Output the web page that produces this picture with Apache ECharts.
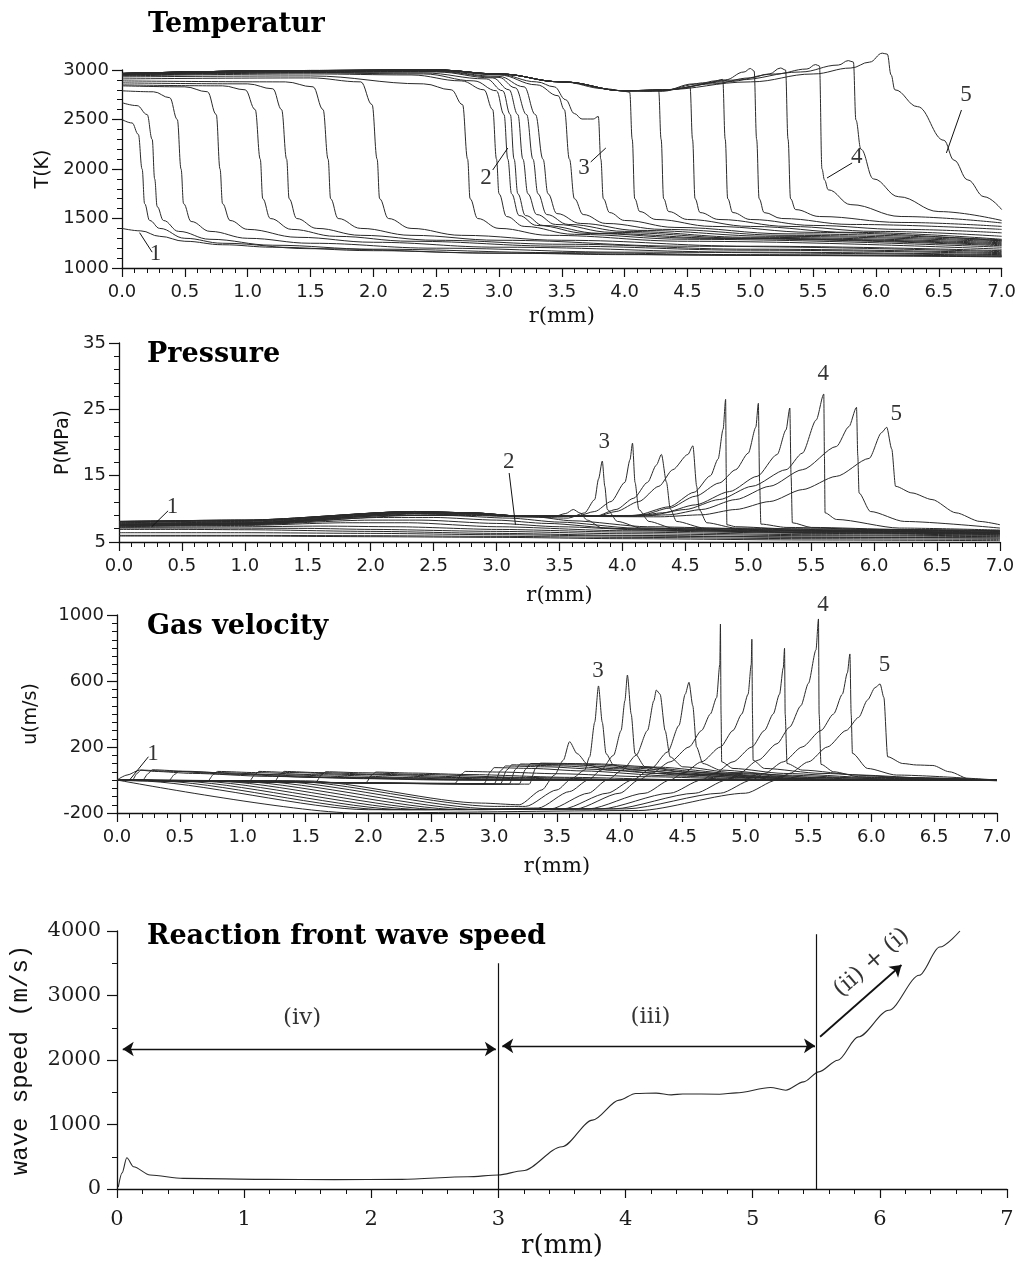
<!DOCTYPE html>
<html><head><meta charset="utf-8">
<script src="https://cdn.jsdelivr.net/npm/echarts@6/dist/echarts.min.js"></script>
<style>html,body{margin:0;padding:0;background:#fff}#c{width:1019px;height:1271px}</style>
</head><body><div id="c"></div>
<script>
// ---------- Panel titles ----------
const panelTitles = ['Temperatur', 'Pressure', 'Gas velocity', 'Reaction front wave speed'];

// ---------- Temperature profiles T(K) vs r(mm) ----------
const tempCurves = [
 [[0,1400],[0.15,1375],[0.3,1320],[0.5,1270],[0.8,1235],[1.2,1210],[2,1175],[3,1150],[4,1135],[5.5,1125],[7,1118]],
 [[0,2500],[0.08,2465],[0.13,2350],[0.16,2000],[0.18,1650],[0.22,1480],[0.3,1400],[0.5,1300],[0.8,1250],[1.5,1195],[3,1150],[5,1128],[7,1112]],
 [[0,2670],[0.12,2640],[0.2,2550],[0.24,2300],[0.26,1900],[0.28,1620],[0.33,1480],[0.45,1370],[0.7,1290],[1.2,1230],[2,1190],[3.5,1155],[5,1135],[7,1120]],
 [[0,2790],[0.25,2780],[0.38,2720],[0.44,2500],[0.47,2000],[0.49,1650],[0.55,1470],[0.7,1370],[1,1300],[1.5,1250],[2.5,1200],[4,1160],[7,1128]],
 [[0,2840],[0.5,2830],[0.68,2780],[0.75,2550],[0.78,2000],[0.8,1650],[0.86,1480],[1,1390],[1.4,1310],[2,1260],[3,1210],[5,1160],[7,1135]],
 [[0,2850],[0.8,2840],[0.98,2800],[1.06,2600],[1.1,2100],[1.12,1700],[1.18,1500],[1.35,1390],[1.7,1320],[2.3,1270],[3.5,1220],[5,1180],[7,1145]],
 [[0,2870],[1,2860],[1.2,2810],[1.27,2600],[1.31,2100],[1.33,1700],[1.39,1500],[1.55,1400],[1.9,1330],[2.5,1280],[3.5,1240],[5,1190],[7,1155]],
 [[0,2890],[1.3,2880],[1.52,2830],[1.6,2600],[1.64,2100],[1.66,1700],[1.72,1500],[1.9,1400],[2.3,1330],[3,1280],[4.5,1220],[7,1165]],
 [[0,2910],[1.5,2920],[1.9,2880],[1.99,2650],[2.03,2100],[2.05,1700],[2.12,1500],[2.3,1400],[2.7,1330],[3.5,1280],[5,1220],[7,1175]],
 [[0,2930],[1.5,2940],[2.4,2860],[2.62,2800],[2.71,2650],[2.75,2100],[2.77,1700],[2.83,1500],[3,1400],[3.4,1330],[4.5,1270],[7,1190]],
 [[0,2940],[1.5,2960],[2.3,2950],[2.7,2890],[2.88,2800],[2.95,2600],[2.98,2100],[3.0,1750],[3.06,1520],[3.2,1420],[3.6,1340],[4.5,1290],[7,1210]],
 [[0,2945],[1.5,2970],[2.4,2960],[2.8,2890],[2.98,2790],[3.04,2550],[3.07,2100],[3.1,1750],[3.16,1530],[3.3,1430],[3.7,1350],[4.6,1300],[7,1225]],
 [[0,2950],[1.5,2975],[2.4,2970],[2.9,2910],[3.03,2790],[3.09,2550],[3.12,2100],[3.15,1750],[3.21,1530],[3.35,1430],[3.8,1350],[4.8,1300],[7,1235]],
 [[0,2955],[1.5,2980],[2.5,2980],[2.95,2920],[3.08,2800],[3.15,2550],[3.19,2100],[3.23,1750],[3.3,1540],[3.45,1440],[3.9,1360],[5,1300],[7,1245]],
 [[0,2955],[1.5,2985],[2.5,2985],[3,2925],[3.13,2820],[3.22,2550],[3.27,2100],[3.31,1750],[3.38,1540],[3.55,1440],[4,1370],[5,1310],[7,1255]],
 [[0,2960],[1.5,2990],[2.5,2990],[3,2935],[3.2,2830],[3.29,2550],[3.35,2100],[3.39,1750],[3.46,1550],[3.65,1450],[4.1,1380],[5.2,1320],[7,1265]],
 [[0,2960],[1.5,2990],[2.5,2995],[3,2950],[3.3,2850],[3.47,2740],[3.52,2600],[3.56,2100],[3.6,1700],[3.67,1540],[3.85,1450],[4.3,1390],[5.3,1330],[7,1275]],
 [[0,2965],[1.5,2995],[2.5,3000],[3,2955],[3.3,2880],[3.44,2830],[3.53,2700],[3.6,2560],[3.66,2505],[3.75,2505],[3.79,2530],[3.81,2100],[3.83,1700],[3.88,1560],[4,1480],[4.4,1410],[5.3,1345],[7,1285]],
 [[0,2965],[1.5,2995],[2.5,3000],[3,2960],[3.5,2880],[3.85,2810],[4,2785],[4.04,2775],[4.06,2300],[4.08,1700],[4.12,1570],[4.25,1490],[4.7,1420],[5.5,1360],[7,1275]],
 [[0,2965],[1.5,2995],[2.5,3000],[3,2960],[3.5,2880],[4,2790],[4.2,2785],[4.27,2795],[4.29,2300],[4.31,1700],[4.35,1570],[4.5,1490],[5,1420],[5.8,1360],[7,1290]],
 [[0,2965],[1.5,2995],[2.5,3000],[3,2960],[3.5,2880],[4,2790],[4.3,2785],[4.45,2815],[4.52,2830],[4.54,2300],[4.56,1700],[4.6,1560],[4.75,1490],[5.3,1420],[6,1370],[7,1320]],
 [[0,2965],[1.5,2995],[2.5,3000],[3,2960],[3.5,2880],[4,2790],[4.3,2790],[4.55,2860],[4.62,2870],[4.72,2890],[4.78,2905],[4.8,2300],[4.82,1700],[4.86,1560],[5,1490],[5.5,1430],[6.2,1390],[7,1355]],
 [[0,2965],[1.5,2995],[2.5,3000],[3,2960],[3.5,2880],[4,2790],[4.3,2795],[4.6,2860],[4.8,2900],[4.95,2980],[5,3015],[5.03,2990],[5.05,2300],[5.07,1700],[5.11,1560],[5.25,1500],[5.8,1440],[7,1390]],
 [[0,2965],[1.5,2995],[2.5,3000],[3,2960],[3.5,2880],[4,2790],[4.3,2795],[4.7,2860],[5,2920],[5.15,2960],[5.24,3020],[5.28,3000],[5.3,2300],[5.32,1700],[5.36,1590],[5.55,1520],[6.2,1460],[7,1420]],
 [[0,2965],[1.5,2995],[2.5,3000],[3,2960],[3.5,2880],[4,2790],[4.3,2800],[4.8,2880],[5.2,2960],[5.45,3010],[5.52,3055],[5.55,3040],[5.57,2000],[5.59,1890],[5.62,1790],[5.8,1640],[6.2,1520],[7,1455]],
 [[0,2965],[1.5,2995],[2.5,3000],[3,2960],[3.5,2880],[4,2790],[4.3,2800],[4.9,2900],[5.4,2980],[5.7,3050],[5.78,3095],[5.82,3080],[5.84,2495],[5.88,2200],[5.98,1900],[6.18,1720],[6.5,1570],[7,1480]],
 [[0,2965],[1.5,2995],[2.5,3000],[3,2960],[3.5,2880],[4,2790],[4.3,2800],[5,2880],[5.5,2960],[5.8,3020],[5.95,3080],[6.05,3170],[6.09,3160],[6.12,2950],[6.15,2800],[6.33,2630],[6.54,2290],[6.62,2090],[6.73,1890],[6.86,1720],[7,1590]]
];
const tempLabels = [['1',0.27,1141],['2',2.9,1909],['3',3.68,2010],['4',5.85,2121],['5',6.72,2747]];
const tempLeaders = [[[0.14,1357],[0.24,1160]],[[2.95,1990],[3.07,2212]],[[3.73,2071],[3.85,2212]],[[5.81,2061],[5.61,1909]],[[6.68,2596],[6.56,2162]]];

// ---------- Pressure profiles P(MPa) ----------
const presCurves = [
 [[0,5.9],[1,5.9],[2,5.8],[3,5.7],[4,5.5],[5.5,5.3],[7,5.2]],
 [[0,6.0],[1,6.0],[2,5.95],[3,5.85],[4,5.7],[5.5,5.5],[7,5.4]],
 [[0,6.4],[1,6.4],[2,6.3],[3,6.1],[4,5.9],[5.5,5.7],[7,5.6]],
 [[0,6.9],[0.5,6.9],[1,6.85],[2,6.6],[3,6.3],[4,6.0],[5.5,5.75],[7,5.6]],
 [[0,7.1],[0.8,7.1],[1.5,7.05],[2,6.9],[3,6.6],[4,6.25],[5.5,5.95],[7,5.8]],
 [[0,7.2],[1,7.3],[1.6,7.4],[2.2,7.3],[3,6.9],[4,6.5],[5.5,6.1],[7,5.9]],
 [[0,7.3],[1,7.5],[1.8,7.9],[2.3,7.9],[3,7.3],[4,6.7],[5.5,6.3],[7,6.0]],
 [[0,7.4],[1,7.6],[2,8.3],[2.4,8.3],[3,7.8],[3.5,7.3],[4.2,6.8],[5.5,6.4],[7,6.1]],
 [[0,7.5],[1,7.7],[2.1,8.7],[2.5,8.7],[3,8.3],[3.4,7.8],[4,7.0],[5.5,6.5],[7,6.2]],
 [[0,7.6],[1,7.8],[2.2,9.0],[2.6,9.0],[3.1,8.6],[3.5,8.0],[4.1,7.1],[5.5,6.6],[7,6.3]],
 [[0,7.7],[1,7.9],[2.3,9.3],[2.8,9.2],[3.3,8.8],[3.6,8.2],[4.2,7.3],[5.5,6.7],[7,6.4]],
 [[0,7.4],[1,7.6],[2.35,9.0],[2.8,9.0],[3.2,8.8],[3.45,8.8],[3.55,9.3],[3.61,9.9],[3.66,9.4],[3.72,8.3],[3.84,7.1],[4.5,6.7],[5.5,6.4],[7,6.2]],
 [[0,7.5],[1,7.7],[2.35,9.2],[2.8,9.1],[3.2,8.8],[3.57,8.6],[3.7,9.4],[3.78,11.4],[3.81,14.5],[3.84,17.2],[3.86,13.4],[3.88,9.9],[3.96,8.1],[4.15,7.1],[5,6.7],[7,6.3]],
 [[0,7.6],[1,7.8],[2.35,9.3],[2.8,9.2],[3.2,8.9],[3.64,8.9],[3.78,9.6],[3.91,11.1],[4.02,14.0],[4.06,17.4],[4.08,19.9],[4.1,14.0],[4.13,9.9],[4.21,8.1],[4.4,7.1],[5.2,6.8],[7,6.4]],
 [[0,7.7],[1,7.9],[2.35,9.4],[2.8,9.3],[3.2,8.9],[3.79,8.9],[3.95,9.9],[4.09,11.6],[4.2,14.0],[4.27,16.6],[4.31,18.2],[4.35,14.0],[4.38,10.0],[4.43,8.1],[4.65,7.1],[5.5,6.8],[7,6.5]],
 [[0,7.8],[1,8.0],[2.35,9.5],[2.8,9.3],[3.2,8.9],[3.8,8.9],[3.95,9.6],[4.13,11.1],[4.29,13.4],[4.4,15.9],[4.52,18.2],[4.56,19.5],[4.59,13.4],[4.61,9.9],[4.67,7.9],[4.9,7.1],[5.8,6.8],[7,6.6]],
 [[0,7.9],[1,8.1],[2.35,9.5],[2.8,9.4],[3.2,8.9],[4.1,9.0],[4.37,10.3],[4.57,12.5],[4.7,15.0],[4.76,17.5],[4.8,22.0],[4.82,26.5],[4.825,15],[4.83,7.6],[4.9,7.3],[5.3,7.0],[7,6.6]],
 [[0,8.0],[1,8.2],[2.35,9.6],[2.8,9.4],[3.2,8.9],[4.0,8.9],[4.16,9.1],[4.37,10.1],[4.58,11.9],[4.77,13.9],[4.9,15.9],[5.0,18.4],[5.06,22.3],[5.08,25.9],[5.09,14],[5.1,7.7],[5.3,7.2],[6,6.9],[7,6.7]],
 [[0,8.0],[1,8.2],[2.35,9.6],[2.8,9.4],[3.2,8.9],[4.1,8.9],[4.32,9.4],[4.58,10.6],[4.85,12.6],[5.07,14.9],[5.23,18.2],[5.3,21.9],[5.33,25.2],[5.34,15],[5.35,7.9],[5.5,7.2],[6.2,6.9],[7,6.7]],
 [[0,8.1],[1,8.3],[2.35,9.6],[2.8,9.4],[3.2,8.9],[4.0,8.9],[4.24,9.1],[4.5,9.9],[4.77,11.4],[5.03,13.4],[5.3,15.9],[5.43,18.4],[5.54,23.4],[5.6,27.3],[5.605,18],[5.61,9.4],[5.7,8.4],[6.2,7.1],[7,6.8]],
 [[0,8.1],[1,8.3],[2.35,9.6],[2.8,9.4],[3.2,8.9],[4.1,8.9],[4.37,9.1],[4.63,9.9],[4.9,11.4],[5.17,13.4],[5.43,15.9],[5.7,19.4],[5.8,22.4],[5.86,25.3],[5.87,18],[5.88,12.4],[5.97,9.6],[6.24,8.1],[7,7.1]],
 [[0,8.1],[1,8.3],[2.35,9.6],[2.8,9.4],[3.2,8.9],[4.3,8.8],[4.63,9.1],[4.9,9.9],[5.17,11.1],[5.43,12.9],[5.7,14.9],[5.96,17.6],[6.06,21.5],[6.1,22.3],[6.14,19],[6.17,13.4],[6.3,12.4],[6.46,11.4],[6.65,9.4],[6.84,8.1],[7,7.6]]
];
const presLabels = [['1',0.43,10.2],['2',3.1,17.0],['3',3.86,20.0],['4',5.6,30.2],['5',6.18,24.2]];
const presLeaders = [[[0.39,9.7],[0.26,7.3]],[[3.1,15.4],[3.15,7.6]]];

// ---------- Gas velocity profiles u(m/s) ----------
const velCurves = [
 [[0,0],[0.08,30],[0.18,60],[0.3,52],[0.6,40],[1.2,22],[2,8],[3,0],[7,0]],
 [[0,0],[0.12,-3],[0.16,40],[0.19,60],[0.45,52],[0.9,35],[1.6,15],[2.6,0],[7,0]],
 [[0,0],[0.2,-4],[0.25,40],[0.28,62],[0.55,53],[1,36],[1.8,15],[2.8,0],[7,0]],
 [[0,0],[0.41,-6],[0.46,35],[0.49,52],[0.8,45],[1.3,32],[2.1,14],[3.1,0],[7,0]],
 [[0,0],[0.72,-8],[0.77,35],[0.8,52],[1.1,45],[1.6,32],[2.4,14],[3.4,0],[7,0]],
 [[0,0],[1.05,-10],[1.1,35],[1.13,52],[1.4,45],[1.9,33],[2.7,15],[3.7,0],[7,0]],
 [[0,0],[1.25,-12],[1.3,35],[1.33,52],[1.6,45],[2.1,34],[2.9,16],[3.9,0],[7,0]],
 [[0,0],[1.58,-14],[1.63,33],[1.66,50],[1.95,44],[2.4,34],[3.2,16],[4.2,0],[7,0]],
 [[0,0],[1.98,-16],[2.03,32],[2.06,48],[2.35,42],[2.8,33],[3.6,16],[4.6,0],[7,0]],
 [[0,0],[2.69,-20],[2.74,35],[2.77,52],[3.05,48],[3.5,38],[4.2,20],[5.2,0],[7,0]],
 [[0,0],[2.92,-22],[2.97,50],[3,75],[3.3,70],[3.7,55],[4.4,25],[5.2,0],[7,0]],
 [[0,0],[3,-24],[3.05,55],[3.09,85],[3.4,80],[3.9,62],[4.5,30],[5.3,0],[7,0]],
 [[0,0],[3.05,-25],[3.1,60],[3.14,92],[3.5,86],[4,68],[4.6,34],[5.4,0],[7,0]],
 [[0,0],[3.12,-25],[3.17,65],[3.21,97],[3.6,92],[4.1,72],[4.7,36],[5.5,0],[7,0]],
 [[0,0],[3.2,-25],[3.25,65],[3.29,100],[3.7,96],[4.2,76],[4.8,38],[5.6,0],[7,0]],
 [[0,0],[3.28,-25],[3.33,70],[3.37,102],[3.8,98],[4.3,78],[4.9,40],[5.7,0],[7,0]],
 [[0,0],[1.5,-5],[2.9,-140],[3.2,-150],[3.38,-60],[3.48,30],[3.55,120],[3.6,232],[3.66,160],[3.75,90],[3.9,60],[4.3,40],[5,15],[6,0],[7,0]],
 [[0,0],[1.35,-5],[3,-160],[3.25,-160],[3.5,-60],[3.62,10],[3.72,60],[3.76,141],[3.8,350],[3.83,570],[3.86,350],[3.89,160],[3.95,90],[4.1,60],[4.6,35],[5.3,10],[6.2,0],[7,0]],
 [[0,0],[1.2,-5],[3,-175],[3.35,-170],[3.6,-70],[3.75,0],[3.85,60],[3.95,150],[4.01,300],[4.04,480],[4.06,636],[4.09,400],[4.12,160],[4.2,80],[4.5,50],[5.2,20],[6.2,0],[7,0]],
 [[0,0],[1.05,-5],[2.9,-180],[3.45,-175],[3.75,-80],[3.9,0],[4.02,60],[4.13,150],[4.22,300],[4.27,480],[4.29,545],[4.32,520],[4.36,300],[4.4,140],[4.5,80],[4.9,45],[5.6,15],[6.5,0],[7,0]],
 [[0,0],[0.9,-5],[2.75,-180],[3.55,-175],[3.9,-80],[4.1,0],[4.25,70],[4.38,170],[4.47,330],[4.52,520],[4.55,592],[4.58,450],[4.61,200],[4.66,100],[4.8,60],[5.3,30],[6,10],[7,0]],
 [[0,0],[0.75,-5],[2.6,-180],[3.65,-175],[4,-80],[4.15,0],[4.25,40],[4.4,110],[4.55,200],[4.65,300],[4.72,400],[4.77,500],[4.795,700],[4.8,945],[4.805,400],[4.81,110],[4.9,70],[5.3,40],[6,15],[7,0]],
 [[0,0],[0.6,-5],[2.45,-180],[3.75,-175],[4.2,-80],[4.4,0],[4.5,40],[4.65,110],[4.8,200],[4.9,300],[4.97,400],[5.02,520],[5.045,700],[5.05,853],[5.055,400],[5.06,120],[5.15,70],[5.6,40],[6.3,15],[7,0]],
 [[0,0],[0.45,-5],[2.3,-180],[3.85,-175],[4.4,-80],[4.65,0],[4.75,40],[4.9,110],[5.05,200],[5.15,300],[5.22,400],[5.27,520],[5.3,680],[5.31,798],[5.315,400],[5.33,100],[5.45,60],[5.9,30],[6.5,10],[7,0]],
 [[0,0],[0.3,-5],[2.15,-180],[3.95,-175],[4.6,-80],[4.85,0],[4.95,40],[5.1,120],[5.25,220],[5.35,320],[5.44,450],[5.5,586],[5.56,788],[5.58,976],[5.585,400],[5.6,95],[5.7,50],[5.9,20],[6.5,5],[7,0]],
 [[0,0],[0.15,-5],[2,-180],[4.05,-175],[4.8,-80],[5.05,0],[5.15,40],[5.3,110],[5.45,200],[5.6,300],[5.7,400],[5.77,520],[5.81,650],[5.83,764],[5.84,400],[5.85,162],[5.97,70],[6.2,30],[7,0]],
 [[0,0],[1.9,-200],[4.15,-185],[5,-80],[5.25,0],[5.35,40],[5.5,110],[5.65,200],[5.8,300],[5.9,380],[5.97,485],[6.03,560],[6.07,582],[6.1,500],[6.13,141],[6.25,100],[6.36,91],[6.49,88],[6.62,50],[6.8,0],[7,-5]]
];
const velLabels = [['1',0.29,152],['3',3.83,655],['4',5.62,1060],['5',6.11,697]];
const velLeaders = [[[0.25,141],[0.1,0]]];

// ---------- Reaction front wave speed (m/s) ----------
const waveSpeed = [[0.01,30],[0.04,250],[0.077,485],[0.13,345],[0.26,217],[0.52,165],[1.18,150],[1.71,145],[2.24,150],[2.76,190],[3.0,217],[3.19,283],[3.5,655],[3.74,1068],[3.95,1378],[4.08,1481],[4.24,1487],[4.36,1460],[4.45,1474],[4.74,1470],[4.87,1490],[5.14,1574],[5.26,1532],[5.4,1661],[5.52,1816],[5.67,1997],[5.83,2358],[6.07,2771],[6.31,3313],[6.47,3751],[6.63,4000]];
const regionBounds = [[[3,0],[3,3500]],[[5.5,0],[5.5,3950]]];
const regionArrows = [[[0.045,2170],[2.98,2170]],[[3.03,2220],[5.49,2220]]];
const regionArrowOneWay = [[[5.53,2361],[6.17,3473]]];
const regionLabels = [['(iv)',1.46,2650,0],['(iii)',4.2,2660,0],['(ii) + (i)',5.94,3500,41]];

// ---------- Axis settings ----------
const xMax = 7;
const yRanges = [[1000,3000,500,5],[5,35,10,5],[-200,1000,400,8],[0,4000,1000,2]];
const yNames = ['T(K)','P(MPa)','u(m/s)','wave speed (m/s)'];
const grids = [
 {left:122, top:70, width:881, height:198},
 {left:119, top:343, width:881, height:199},
 {left:117, top:615, width:880, height:198},
 {left:117, top:931, width:890, height:258}
];

const INK = '#111';
const LINE = '#2a2a2a';
const sansTick = {fontFamily:'DejaVu Sans', fontSize:18, color:'#1c1c1c'};
const serifTick = {fontFamily:'DejaVu Serif', fontSize:21, color:'#1c1c1c'};

const xAxes = grids.map((g,i)=>({
  type:'value', gridIndex:i, min:0, max:xMax, interval: i===3?1:0.5,
  axisLine:{show:true, onZero:false, lineStyle:{color:INK, width:1.3}},
  axisTick:{show:true, inside:false, length:9, lineStyle:{color:INK, width:1.2}},
  minorTick:{show:true, splitNumber:5, length:5, lineStyle:{color:INK, width:1}},
  splitLine:{show:false},
  axisLabel: Object.assign({margin: i===3?20:15, formatter: i===3 ? (v=>String(v)) : (v=>v.toFixed(1))}, i===3?serifTick:sansTick),
  name:'r(mm)', nameLocation:'middle', nameGap: i===0?38:(i===3?44:43),
  nameTextStyle:{fontFamily:'DejaVu Serif', fontSize: i===3?26:21, color:INK}
}));
const yAxes = grids.map((g,i)=>({
  type:'value', gridIndex:i, min:yRanges[i][0], max:yRanges[i][1], interval:yRanges[i][2],
  axisLine:{show:true, onZero:false, lineStyle:{color:INK, width:1.3}},
  axisTick:{show:true, inside:false, length:10, lineStyle:{color:INK, width:1.2}},
  minorTick:{show:true, splitNumber:yRanges[i][3], length:5, lineStyle:{color:INK, width:1}},
  splitLine:{show:false},
  axisLabel: Object.assign({margin: i===3?16:13, formatter: v=>String(v)}, i===3?serifTick:sansTick),
  name:yNames[i], nameLocation:'middle', nameRotate:90,
  nameGap: [66,45,76,84][i],
  nameTextStyle: i===3 ? {fontFamily:'Liberation Mono', fontSize:24, color:INK} : {fontFamily:'DejaVu Sans', fontSize:19, color:INK}
}));

const series = [];
function addCurves(list, gi, sm){
  list.forEach(c=>series.push({
    type:'line', xAxisIndex:gi, yAxisIndex:gi, data:c, showSymbol:false, symbol:'none',
    smooth:sm, smoothMonotone:'x', clip:false, silent:true,
    lineStyle:{color:LINE, width:1}
  }));
}
function labelSeries(gi, labels, leaders, font, size, arrowSym, lw){
  return {
    type:'scatter', xAxisIndex:gi, yAxisIndex:gi, clip:false, silent:true,
    symbolSize:1, itemStyle:{color:'rgba(255,255,255,0)'},
    data: labels.map(l=>({value:[l[1],l[2],l[0]], label:{rotate:l[3]||0}})),
    label:{show:true, position:[0,0], align:'center', verticalAlign:'middle', formatter:p=>p.value[2],
      fontFamily:font, fontSize:size, color:'#000', textBorderWidth:0},
    markLine:{silent:true, symbol:arrowSym||'none', symbolSize:11, animation:false, label:{show:false},
      lineStyle:{color:INK, width:lw||1, type:'solid'},
      data: leaders.map(l=>[{coord:l[0]},{coord:l[1]}])}
  };
}
addCurves(tempCurves, 0, 0.4);
addCurves(presCurves, 1, 0.25);
addCurves(velCurves, 2, 0.25);
series.push(labelSeries(0, tempLabels, tempLeaders, 'Liberation Serif', 23));
series.push(labelSeries(1, presLabels, presLeaders, 'Liberation Serif', 23));
series.push(labelSeries(2, velLabels, velLeaders, 'Liberation Serif', 23));

series.push({
  type:'line', xAxisIndex:3, yAxisIndex:3, data:waveSpeed, showSymbol:false, symbol:'none',
  smooth:0.3, smoothMonotone:'x', clip:false, silent:true, lineStyle:{color:LINE, width:1.1},
  markLine:{silent:true, symbol:'none', animation:false, label:{show:false},
    lineStyle:{color:INK, width:1.2, type:'solid'},
    data: regionBounds.map(l=>[{coord:l[0]},{coord:l[1]}])}
});
series.push(labelSeries(3, regionLabels, regionArrows, 'DejaVu Serif', 23, ['arrow','arrow'], 1.3));
series.push(labelSeries(3, [], regionArrowOneWay, 'DejaVu Serif', 23, ['none','arrow'], 1.8));

const titlePos = [[148,25],[147,355],[147,627],[147,937]];
const graphic = panelTitles.map((t,i)=>({
  type:'text', x:titlePos[i][0], y:titlePos[i][1], silent:true,
  style:{text:t, font:'bold 27px "DejaVu Serif"', fill:'#000', textVerticalAlign:'middle', textAlign:'left'}
}));

const chart = echarts.init(document.getElementById('c'), null, {renderer:'canvas'});
chart.setOption({
  animation:false,
  backgroundColor:'#fff',
  grid: grids,
  xAxis: xAxes,
  yAxis: yAxes,
  series: series,
  graphic: graphic
});
</script></body></html>
